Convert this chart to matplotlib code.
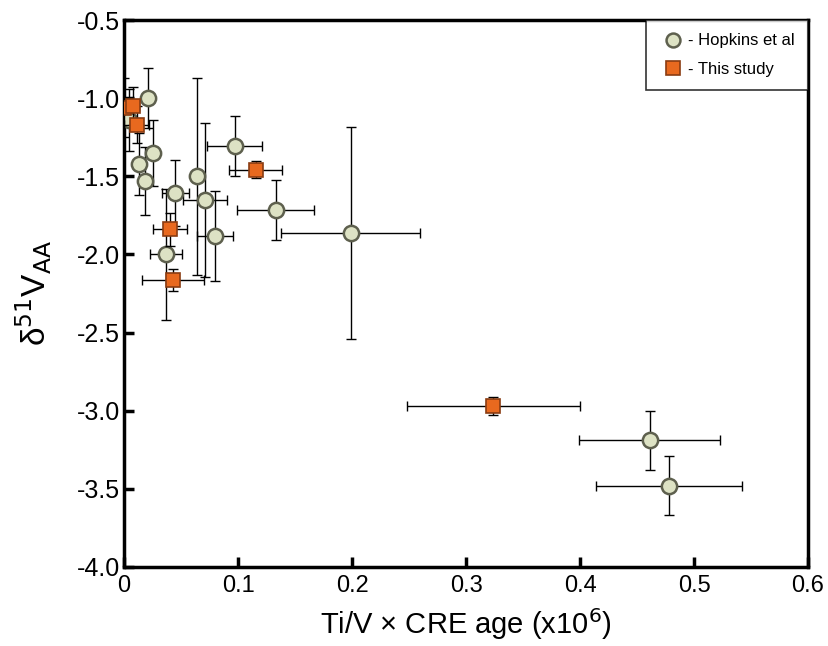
import matplotlib.pyplot as plt
from matplotlib.lines import Line2D

# Hopkins et al data
hop_x = [0.004, 0.021, 0.025, 0.013, 0.018, 0.045, 0.064, 0.071, 0.080, 0.037, 0.097, 0.133, 0.199, 0.461, 0.478]
hop_y = [-1.14, -1.00, -1.35, -1.42, -1.53, -1.605, -1.50, -1.652, -1.883, -2.00, -1.305, -1.716, -1.863, -3.19, -3.479]
hop_xerr = [0.0, 0.0, 0.0, 0.0, 0.0, 0.012, 0.0, 0.019, 0.016, 0.014, 0.024, 0.034, 0.061, 0.062, 0.064]
hop_yerr = [0.20, 0.19, 0.21, 0.20, 0.22, 0.21, 0.63, 0.49, 0.29, 0.42, 0.19, 0.19, 0.68, 0.19, 0.19]

# this study
our_x = [0.000, 0.008, 0.011, 0.040, 0.043, 0.1155, 0.324]
our_y = [-1.06, -1.05, -1.17, -1.84, -2.165, -1.457, -2.97]
our_xerr = [0.0, 0.005, 0.011, 0.015, 0.027, 0.0235, 0.076]
our_yerr = [0.19, 0.12, 0.12, 0.105, 0.07, 0.055, 0.06]

x_ticks = [0, 0.1, 0.2, 0.3, 0.4, 0.5, 0.6]
x_ticklabels = ["0", "0.1", "0.2", "0.3", "0.4", "0.5", "0.6"]
y_ticks = [-4.0, -3.5, -3.0, -2.5, -2.0, -1.5, -1.0, -0.5]

circ_face = "#dde2c4"
circ_edge = "#5e604e"
sq_face = "#e8691f"
sq_edge = "#8a3c12"

plt.rcParams['font.family'] = ['Liberation Sans', 'DejaVu Sans']

fig = plt.figure(figsize=(8.29, 6.46), dpi=100)
ax = fig.add_axes([0.1496, 0.1223, 0.8251, 0.8467])

ax.errorbar(hop_x, hop_y, xerr=hop_xerr, yerr=hop_yerr, fmt='none',
            ecolor='black', elinewidth=1, capsize=3.5, capthick=1, zorder=2)
ax.plot(hop_x, hop_y, 'o', ms=11, mfc=circ_face, mec=circ_edge, mew=1.8, zorder=3)

ax.errorbar(our_x, our_y, xerr=our_xerr, yerr=our_yerr, fmt='none',
            ecolor='black', elinewidth=1, capsize=3.5, capthick=1, zorder=4)
ax.plot(our_x, our_y, 's', ms=10.5, mfc=sq_face, mec=sq_edge, mew=1.2, zorder=5)

ax.set_xlim(0, 0.6)
ax.set_ylim(-4.0, -0.5)
ax.set_xticks(x_ticks)
ax.set_xticklabels(x_ticklabels, fontsize=17)
ax.set_yticks(y_ticks)
ax.set_yticklabels([f"{v:.1f}" for v in y_ticks], fontsize=18)
ax.tick_params(direction='in', length=7, width=2.5, pad=6)
ax.tick_params(axis='y', pad=3)
for s in ax.spines.values():
    s.set_linewidth(2.5)

ax.set_xlabel("Ti/V × CRE age (x10$^{6}$)", fontsize=21, labelpad=6)
ax.set_ylabel("δ$^{51}$V$_{\\mathrm{AA}}$", fontsize=24, labelpad=16)

handles = [
    Line2D([], [], ls='none', marker='o', ms=10, mfc=circ_face, mec=circ_edge, mew=1.8),
    Line2D([], [], ls='none', marker='s', ms=10, mfc=sq_face, mec=sq_edge, mew=1.2),
]
leg = ax.legend(handles, ["- Hopkins et al", "- This study"], loc='upper right',
                borderaxespad=0, fancybox=False, edgecolor='black', fontsize=12,
                handletextpad=0.1, borderpad=0.8, labelspacing=0.8, handlelength=1.6)
leg.get_frame().set_linewidth(1.2)

fig.savefig("out.png", dpi=100)
